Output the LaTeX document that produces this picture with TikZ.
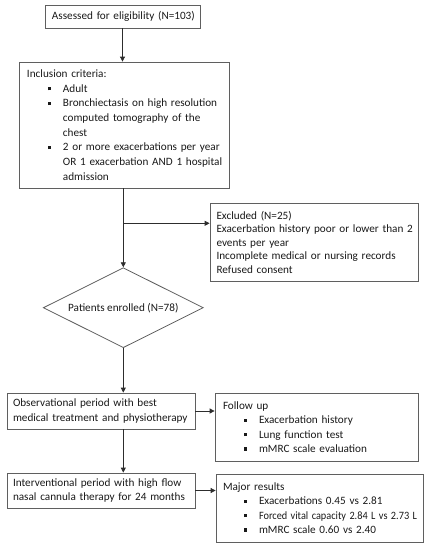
\documentclass[tikz,border=0pt]{standalone}
\usepackage{fontspec}
\setmainfont{Carlito}
\usepackage{graphicx}
\usepackage{tikz}
\usetikzlibrary{positioning, shapes.geometric, arrows.meta}

\definecolor{boxline}{RGB}{95,95,95}
\definecolor{arrline}{RGB}{45,45,45}
\definecolor{txt}{RGB}{25,25,25}

\newcommand{\sqb}[1]{\mbox{\makebox[36pt][l]{\hspace{21pt}\rule[1.8pt]{3.2pt}{3.2pt}}#1}}
\newcommand{\ind}[1]{\mbox{\hspace*{36pt}#1}}

\begin{document}
\begin{tikzpicture}[x=1pt, y=-1pt, font=\fontsize{11.2}{14.3}\selectfont, text=txt,
    box/.style={draw=boxline, line width=0.8pt, rectangle, align=left, inner xsep=7pt, inner ysep=0pt},
    arr/.style={draw=arrline, line width=0.8pt, -{Triangle[length=5pt, width=5pt]}}]
      \useasboundingbox (0,0) rectangle (440,550);

      \node[box, align=center, text width=141pt, minimum height=23pt]  (A) at (122.5, 16.5)  {\mbox{Assessed for eligibility (N=103)}};
      \node[box, text width=194pt, minimum height=126pt, inner xsep=8pt, font=\fontsize{11.2}{14.7}\selectfont]  (I) at (124, 125)
            {Inclusion criteria:\\ \sqb{Adult}\\ \sqb{Bronchiectasis on high resolution}\\ \ind{computed tomography of the}\\ \ind{chest}\\
             \sqb{2 or more exacerbations per year}\\ \ind{OR 1 exacerbation AND 1 hospital}\\ \ind{admission}};
      \node[box, text width=195pt, minimum height=78pt, inner xsep=6.5pt, font=\fontsize{11.2}{13.5}\selectfont]  (X) at (314, 242)
            {Excluded (N=25)\\ \mbox{Exacerbation history poor or lower than 2}\\ events per year\\ \mbox{Incomplete medical or nursing records}\\ Refused consent};

      \node[draw=boxline, line width=0.8pt, diamond, aspect=2, minimum width=160pt, minimum height=80pt, inner sep=0pt]  (E) at (123.3, 307.7)  {Patients enrolled (N=78)};

      \node[box, text width=176pt, minimum height=36pt, inner xsep=6pt]  (O) at (101, 411)
            {\mbox{Observational period with best}\\ \mbox{medical treatment and physiotherapy}};
      \node[box, text width=187pt, minimum height=68pt, inner xsep=8pt]  (F) at (316.5, 427)
            {Follow up\\ \sqb{Exacerbation history}\\ \sqb{Lung function test}\\ \sqb{mMRC scale evaluation}};

      \node[box, text width=176pt, minimum height=35pt, inner xsep=6pt]  (V) at (101, 490.5)
            {\mbox{Interventional period with high flow}\\ \mbox{nasal cannula therapy for 24 months}};
      \node[box, text width=193pt, minimum height=68pt]  (R) at (319.5, 508)
            {Major results\\ \sqb{Exacerbations 0.45 vs 2.81}\\ \sqb{\resizebox{158pt}{\height}{Forced vital capacity 2.84 L vs 2.73 L}}\\ \sqb{mMRC scale 0.60 vs 2.40}};

      \coordinate (br) at (123.3, 223.3);

      \draw[arr] (A.south) -- (A.south |- I.north);
      \draw[arr] (I.south -| E.north) -- (E.north);
      \draw[arr] (br) -- (br -| X.west);

      \draw[arr] (E.south) -- (E.south |- O.north);
      \draw[arr] (O.east) -- (O.east -| F.west);
      \draw[arr] (O.south -| E.south) -- (V.north -| E.south);
      \draw[arr] (V.east) -- (V.east -| R.west);
\end{tikzpicture}
\end{document}
